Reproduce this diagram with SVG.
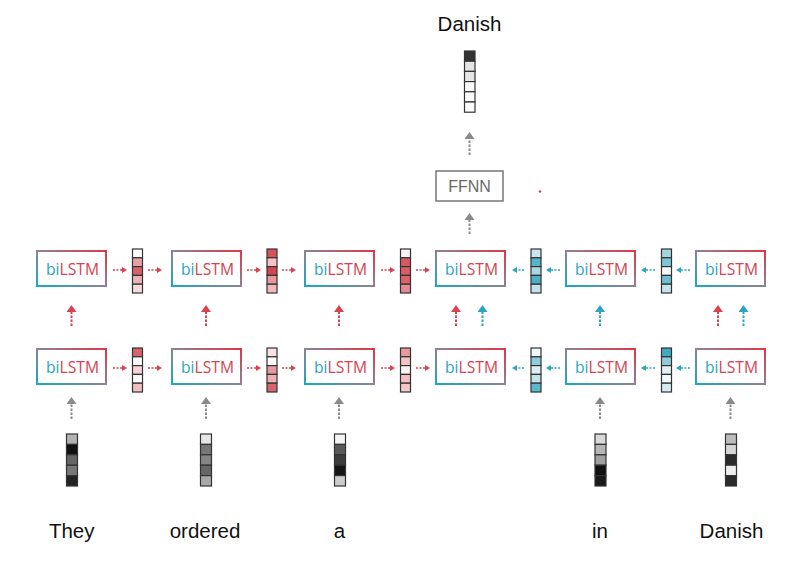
<svg xmlns="http://www.w3.org/2000/svg" width="803" height="561" viewBox="0 0 803 561">
<style>
.box{fill:#fff;stroke:url(#bord);stroke-width:2}
.lbl{font-family:"Open Sans","DejaVu Sans",sans-serif;font-size:17px;text-anchor:middle}
.bi{fill:#2aa5c1}
.ls{fill:#d8434f}
.cell rect{stroke:#333;stroke-width:1.2}
.word{font-family:"Liberation Sans",Arial,sans-serif;font-size:20.5px;fill:#111;text-anchor:middle}
.ff{fill:#fff;stroke:#777;stroke-width:1.5}
.fft{font-family:"Liberation Sans",Arial,sans-serif;font-size:16px;fill:#6a6a6a;text-anchor:middle}
.hr{stroke:#d9424e;stroke-width:1.6;stroke-dasharray:2 1.5;fill:none;marker-end:url(#hR)}
.ht{stroke:#27a6c0;stroke-width:1.6;stroke-dasharray:2 1.5;fill:none;marker-end:url(#hT)}
.vr{stroke:#d9424e;stroke-width:2;stroke-dasharray:2.5 1.5;fill:none;marker-end:url(#vR)}
.vt{stroke:#27a6c0;stroke-width:2;stroke-dasharray:2.5 1.5;fill:none;marker-end:url(#vT)}
.vg{stroke:#8a8a8a;stroke-width:2;stroke-dasharray:2.5 1.5;fill:none;marker-end:url(#vG)}
</style>
<defs>
<linearGradient id="bord" x1="0" y1="1" x2="1" y2="0">
<stop offset="0" stop-color="#18a8c8"/>
<stop offset="0.5" stop-color="#8d8298"/>
<stop offset="1" stop-color="#de3845"/>
</linearGradient>
<marker id="hR" viewBox="0 0 10 10" refX="0" refY="5" markerWidth="5" markerHeight="6" markerUnits="userSpaceOnUse" orient="auto" preserveAspectRatio="none"><path d="M0,0L10,5L0,10z" fill="#d9424e"/></marker>
<marker id="hT" viewBox="0 0 10 10" refX="0" refY="5" markerWidth="5" markerHeight="6" markerUnits="userSpaceOnUse" orient="auto" preserveAspectRatio="none"><path d="M0,0L10,5L0,10z" fill="#27a6c0"/></marker>
<marker id="vR" viewBox="0 0 10 10" refX="0" refY="5" markerWidth="7" markerHeight="10" markerUnits="userSpaceOnUse" orient="auto" preserveAspectRatio="none"><path d="M0,0L10,5L0,10z" fill="#d9424e"/></marker>
<marker id="vT" viewBox="0 0 10 10" refX="0" refY="5" markerWidth="7" markerHeight="10" markerUnits="userSpaceOnUse" orient="auto" preserveAspectRatio="none"><path d="M0,0L10,5L0,10z" fill="#27a6c0"/></marker>
<marker id="vG" viewBox="0 0 10 10" refX="0" refY="5" markerWidth="7" markerHeight="10" markerUnits="userSpaceOnUse" orient="auto" preserveAspectRatio="none"><path d="M0,0L10,5L0,10z" fill="#8a8a8a"/></marker>
</defs>
<rect width="803" height="561" fill="#fff"/>

<g id="connectors">
<path class="hr" d="M113,270H122"/>
<path class="hr" d="M148,270H157"/>
<path class="hr" d="M247,270H256"/>
<path class="hr" d="M282,270H291"/>
<path class="hr" d="M381,270H390"/>
<path class="hr" d="M416,270H425"/>
<path class="ht" d="M524,270H517"/>
<path class="ht" d="M560,270H551"/>
<path class="ht" d="M655,270H646"/>
<path class="ht" d="M690,270H681"/>
<path class="hr" d="M113,368H122"/>
<path class="hr" d="M148,368H157"/>
<path class="hr" d="M247,368H256"/>
<path class="hr" d="M282,368H291"/>
<path class="hr" d="M381,368H390"/>
<path class="hr" d="M416,368H425"/>
<path class="ht" d="M524,368H517"/>
<path class="ht" d="M560,368H551"/>
<path class="ht" d="M655,368H646"/>
<path class="ht" d="M690,368H681"/>
<path class="vr" d="M71.5,326V312"/>
<path class="vr" d="M206,326V312"/>
<path class="vr" d="M339,326V312"/>
<path class="vr" d="M456,326V312"/>
<path class="vt" d="M482.5,326V312"/>
<path class="vt" d="M600,326V312"/>
<path class="vr" d="M718,326V312"/>
<path class="vt" d="M743.5,326V312"/>
<path class="vg" d="M71.5,419V404"/>
<path class="vg" d="M206,419V404"/>
<path class="vg" d="M339,419V404"/>
<path class="vg" d="M600,419V404"/>
<path class="vg" d="M730.5,419V404"/>
<path class="vg" d="M469.5,234V220"/>
<path class="vg" d="M469.5,155V139"/>
</g>

<g id="output-label"><text class="word" x="469.5" y="31">Danish</text></g>
<g id="output-vector" class="cell">
<rect x="464.5" y="51" width="10.5" height="10.2" fill="#333"/>
<rect x="464.5" y="61.2" width="10.5" height="10.2" fill="#e3e3e3"/>
<rect x="464.5" y="71.4" width="10.5" height="10.2" fill="#e6e6e6"/>
<rect x="464.5" y="81.6" width="10.5" height="10.2" fill="#fff"/>
<rect x="464.5" y="91.8" width="10.5" height="10.2" fill="#fff"/>
<rect x="464.5" y="102" width="10.5" height="10.2" fill="#fff"/>
</g>
<g id="ffnn">
<rect class="ff" x="436" y="171" width="67" height="30"/>
<text class="fft" x="469.5" y="192">FFNN</text>
</g>
<g id="dot"><circle cx="540" cy="191.5" r="1.2" fill="#e8303f"/></g>

<g id="up1"><rect class="box" x="37" y="251" width="69" height="35"/><text class="lbl" x="72.5" y="275" textLength="53" lengthAdjust="spacingAndGlyphs"><tspan class="bi">bi</tspan><tspan class="ls">LSTM</tspan></text></g>
<g id="up2"><rect class="box" x="172" y="251" width="69" height="35"/><text class="lbl" x="207.5" y="275" textLength="53" lengthAdjust="spacingAndGlyphs"><tspan class="bi">bi</tspan><tspan class="ls">LSTM</tspan></text></g>
<g id="up3"><rect class="box" x="305" y="251" width="69" height="35"/><text class="lbl" x="340.5" y="275" textLength="53" lengthAdjust="spacingAndGlyphs"><tspan class="bi">bi</tspan><tspan class="ls">LSTM</tspan></text></g>
<g id="up4"><rect class="box" x="436" y="251" width="69" height="35"/><text class="lbl" x="471.5" y="275" textLength="53" lengthAdjust="spacingAndGlyphs"><tspan class="bi">bi</tspan><tspan class="ls">LSTM</tspan></text></g>
<g id="up5"><rect class="box" x="566" y="251" width="69" height="35"/><text class="lbl" x="601.5" y="275" textLength="53" lengthAdjust="spacingAndGlyphs"><tspan class="bi">bi</tspan><tspan class="ls">LSTM</tspan></text></g>
<g id="up6"><rect class="box" x="696" y="251" width="69" height="35"/><text class="lbl" x="731.5" y="275" textLength="53" lengthAdjust="spacingAndGlyphs"><tspan class="bi">bi</tspan><tspan class="ls">LSTM</tspan></text></g>

<g id="lo1"><rect class="box" x="37" y="349" width="69" height="35"/><text class="lbl" x="72.5" y="373" textLength="53" lengthAdjust="spacingAndGlyphs"><tspan class="bi">bi</tspan><tspan class="ls">LSTM</tspan></text></g>
<g id="lo2"><rect class="box" x="172" y="349" width="69" height="35"/><text class="lbl" x="207.5" y="373" textLength="53" lengthAdjust="spacingAndGlyphs"><tspan class="bi">bi</tspan><tspan class="ls">LSTM</tspan></text></g>
<g id="lo3"><rect class="box" x="305" y="349" width="69" height="35"/><text class="lbl" x="340.5" y="373" textLength="53" lengthAdjust="spacingAndGlyphs"><tspan class="bi">bi</tspan><tspan class="ls">LSTM</tspan></text></g>
<g id="lo4"><rect class="box" x="436" y="349" width="69" height="35"/><text class="lbl" x="471.5" y="373" textLength="53" lengthAdjust="spacingAndGlyphs"><tspan class="bi">bi</tspan><tspan class="ls">LSTM</tspan></text></g>
<g id="lo5"><rect class="box" x="566" y="349" width="69" height="35"/><text class="lbl" x="601.5" y="373" textLength="53" lengthAdjust="spacingAndGlyphs"><tspan class="bi">bi</tspan><tspan class="ls">LSTM</tspan></text></g>
<g id="lo6"><rect class="box" x="696" y="349" width="69" height="35"/><text class="lbl" x="731.5" y="373" textLength="53" lengthAdjust="spacingAndGlyphs"><tspan class="bi">bi</tspan><tspan class="ls">LSTM</tspan></text></g>

<g id="uv1" class="cell">
<rect x="132.5" y="249" width="10" height="8.8" fill="#fff"/>
<rect x="132.5" y="257.8" width="10" height="8.8" fill="#e6a2a6"/>
<rect x="132.5" y="266.6" width="10" height="8.8" fill="#d9616a"/>
<rect x="132.5" y="275.4" width="10" height="8.8" fill="#ecb3b6"/>
<rect x="132.5" y="284.2" width="10" height="8.8" fill="#f7dcdd"/>
</g>
<g id="uv2" class="cell">
<rect x="267" y="249" width="10" height="8.8" fill="#d8525b"/>
<rect x="267" y="257.8" width="10" height="8.8" fill="#f2c4c6"/>
<rect x="267" y="266.6" width="10" height="8.8" fill="#d64651"/>
<rect x="267" y="275.4" width="10" height="8.8" fill="#e8979c"/>
<rect x="267" y="284.2" width="10" height="8.8" fill="#f0babd"/>
</g>
<g id="uv3" class="cell">
<rect x="400.5" y="249" width="10" height="8.8" fill="#fbf3f3"/>
<rect x="400.5" y="257.8" width="10" height="8.8" fill="#d9575f"/>
<rect x="400.5" y="266.6" width="10" height="8.8" fill="#da5c64"/>
<rect x="400.5" y="275.4" width="10" height="8.8" fill="#da626a"/>
<rect x="400.5" y="284.2" width="10" height="8.8" fill="#e58a90"/>
</g>
<g id="uv4" class="cell">
<rect x="531" y="249" width="10" height="8.8" fill="#c9e6ee"/>
<rect x="531" y="257.8" width="10" height="8.8" fill="#55b4c9"/>
<rect x="531" y="266.6" width="10" height="8.8" fill="#a8d8e3"/>
<rect x="531" y="275.4" width="10" height="8.8" fill="#4db2c7"/>
<rect x="531" y="284.2" width="10" height="8.8" fill="#c3e3eb"/>
</g>
<g id="uv5" class="cell">
<rect x="661.5" y="249" width="10" height="8.8" fill="#a2d4e1"/>
<rect x="661.5" y="257.8" width="10" height="8.8" fill="#7ec5d7"/>
<rect x="661.5" y="266.6" width="10" height="8.8" fill="#f5fafb"/>
<rect x="661.5" y="275.4" width="10" height="8.8" fill="#6ebed2"/>
<rect x="661.5" y="284.2" width="10" height="8.8" fill="#c6e5ed"/>
</g>

<g id="lv1" class="cell">
<rect x="132.5" y="348" width="10" height="8.8" fill="#d9646b"/>
<rect x="132.5" y="356.8" width="10" height="8.8" fill="#fff"/>
<rect x="132.5" y="365.6" width="10" height="8.8" fill="#f6d3d4"/>
<rect x="132.5" y="374.4" width="10" height="8.8" fill="#fff"/>
<rect x="132.5" y="383.2" width="10" height="8.8" fill="#f0bfc2"/>
</g>
<g id="lv2" class="cell">
<rect x="267" y="348" width="10" height="8.8" fill="#f8e2e3"/>
<rect x="267" y="356.8" width="10" height="8.8" fill="#fff"/>
<rect x="267" y="365.6" width="10" height="8.8" fill="#e8999d"/>
<rect x="267" y="374.4" width="10" height="8.8" fill="#edafb2"/>
<rect x="267" y="383.2" width="10" height="8.8" fill="#d9636a"/>
</g>
<g id="lv3" class="cell">
<rect x="400.5" y="348" width="10" height="8.8" fill="#e89a9e"/>
<rect x="400.5" y="356.8" width="10" height="8.8" fill="#f2c4c6"/>
<rect x="400.5" y="365.6" width="10" height="8.8" fill="#fcf4f4"/>
<rect x="400.5" y="374.4" width="10" height="8.8" fill="#f1bec1"/>
<rect x="400.5" y="383.2" width="10" height="8.8" fill="#f3c7c9"/>
</g>
<g id="lv4" class="cell">
<rect x="531" y="348" width="10" height="8.8" fill="#eef7fa"/>
<rect x="531" y="356.8" width="10" height="8.8" fill="#8ecbdb"/>
<rect x="531" y="365.6" width="10" height="8.8" fill="#dbeff4"/>
<rect x="531" y="374.4" width="10" height="8.8" fill="#c2e3eb"/>
<rect x="531" y="383.2" width="10" height="8.8" fill="#5cb8cc"/>
</g>
<g id="lv5" class="cell">
<rect x="661.5" y="348" width="10" height="8.8" fill="#40a9c1"/>
<rect x="661.5" y="356.8" width="10" height="8.8" fill="#8ecbdb"/>
<rect x="661.5" y="365.6" width="10" height="8.8" fill="#e2f1f5"/>
<rect x="661.5" y="374.4" width="10" height="8.8" fill="#f3f9fb"/>
<rect x="661.5" y="383.2" width="10" height="8.8" fill="#d2ebf1"/>
</g>

<g id="in1" class="cell">
<rect x="66.5" y="434" width="11" height="10.4" fill="#b3b3b3"/>
<rect x="66.5" y="444.4" width="11" height="10.4" fill="#111"/>
<rect x="66.5" y="454.8" width="11" height="10.4" fill="#666"/>
<rect x="66.5" y="465.2" width="11" height="10.4" fill="#777"/>
<rect x="66.5" y="475.6" width="11" height="10.4" fill="#232323"/>
</g>
<g id="in2" class="cell">
<rect x="200.5" y="434" width="11" height="10.4" fill="#e6e6e6"/>
<rect x="200.5" y="444.4" width="11" height="10.4" fill="#777"/>
<rect x="200.5" y="454.8" width="11" height="10.4" fill="#858585"/>
<rect x="200.5" y="465.2" width="11" height="10.4" fill="#666"/>
<rect x="200.5" y="475.6" width="11" height="10.4" fill="#a8a8a8"/>
</g>
<g id="in3" class="cell">
<rect x="334.5" y="434" width="11" height="10.4" fill="#f5f5f5"/>
<rect x="334.5" y="444.4" width="11" height="10.4" fill="#5a5a5a"/>
<rect x="334.5" y="454.8" width="11" height="10.4" fill="#3c3c3c"/>
<rect x="334.5" y="465.2" width="11" height="10.4" fill="#141414"/>
<rect x="334.5" y="475.6" width="11" height="10.4" fill="#ccc"/>
</g>
<g id="in5" class="cell">
<rect x="595" y="434" width="11" height="10.4" fill="#d9d9d9"/>
<rect x="595" y="444.4" width="11" height="10.4" fill="#b6b6b6"/>
<rect x="595" y="454.8" width="11" height="10.4" fill="#a0a0a0"/>
<rect x="595" y="465.2" width="11" height="10.4" fill="#111"/>
<rect x="595" y="475.6" width="11" height="10.4" fill="#1a1a1a"/>
</g>
<g id="in6" class="cell">
<rect x="725.5" y="434" width="11" height="10.4" fill="#bdbdbd"/>
<rect x="725.5" y="444.4" width="11" height="10.4" fill="#d6d6d6"/>
<rect x="725.5" y="454.8" width="11" height="10.4" fill="#2b2b2b"/>
<rect x="725.5" y="465.2" width="11" height="10.4" fill="#eee"/>
<rect x="725.5" y="475.6" width="11" height="10.4" fill="#2b2b2b"/>
</g>

<g id="w1"><text class="word" x="71.7" y="538">They</text></g>
<g id="w2"><text class="word" x="205" y="538">ordered</text></g>
<g id="w3"><text class="word" x="339.5" y="538">a</text></g>
<g id="w5"><text class="word" x="600" y="538">in</text></g>
<g id="w6"><text class="word" x="731.5" y="538">Danish</text></g>
</svg>
